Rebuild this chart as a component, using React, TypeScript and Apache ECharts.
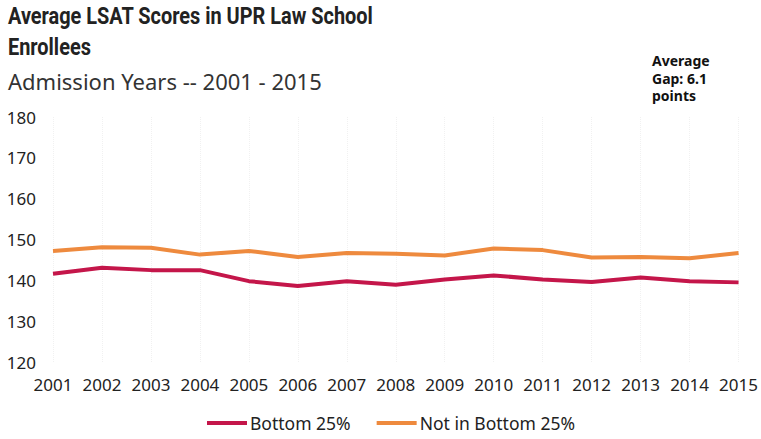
import React, { useEffect, useRef } from "react";
import * as echarts from "echarts";

const years = ["2001","2002","2003","2004","2005","2006","2007","2008","2009","2010","2011","2012","2013","2014","2015"];
const bottom25 = [141.6,143.1,142.5,142.5,139.8,138.6,139.8,138.9,140.2,141.2,140.2,139.6,140.7,139.8,139.5];
const notBottom25 = [147.2,148.1,148.0,146.3,147.2,145.7,146.7,146.5,146.1,147.8,147.4,145.6,145.7,145.4,146.7];
const seriesNames = ["Bottom 25%", "Not in Bottom 25%"];
const titleLines = ["Average LSAT Scores in UPR Law School", "Enrollees"];
const subtitle = "Admission Years -- 2001 - 2015";
const noteLines = ["Average", "Gap: 6.1", "points"];

export default function App() {
  const ref = useRef<HTMLDivElement>(null);
  useEffect(() => {
    if (!ref.current) return;
    const chart = echarts.init(ref.current, null, { renderer: "svg" });
    const font = "'Noto Sans', sans-serif";
    chart.setOption({
      animation: false,
      backgroundColor: "#ffffff",
      textStyle: { fontFamily: font },
      graphic: [
        {
          type: "text", x: 8, y: 4, scaleX: 0.83,
          style: { text: titleLines[0], font: "bold 24px Roboto, sans-serif", fill: "#222" },
        },
        {
          type: "text", x: 8, y: 35, scaleX: 0.83,
          style: { text: titleLines[1], font: "bold 24px Roboto, sans-serif", fill: "#222" },
        },
        {
          type: "text", x: 8, y: 70,
          style: { text: subtitle, font: "22px 'Noto Sans', sans-serif", fill: "#333" },
        },
        ...noteLines.map((t, i) => ({
          type: "text", x: 652, y: 52 + i * 17.5,
          style: { text: t, font: "bold 14px 'Noto Sans', sans-serif", lineHeight: 17, fill: "#111" },
        })),
      ],
      legend: {
        bottom: 2,
        left: 202,
        itemWidth: 40,
        itemHeight: 4,
        itemGap: 26,
        icon: "rect",
        textStyle: { fontSize: 17.5, color: "#222", fontFamily: font, padding: [0, 0, 0, -2] },
        data: seriesNames,
      },
      grid: { left: 53, right: 13, top: 117, height: 245, containLabel: false },
      xAxis: {
        type: "category",
        data: years,
        boundaryGap: false,
        axisLine: { show: false },
        axisTick: { show: false },
        axisLabel: { fontSize: 17, color: "#222", margin: 14, fontFamily: font, interval: 0, hideOverlap: false },
        splitLine: { show: true, interval: 0, lineStyle: { color: "#f1f1f1", type: "dotted", width: 1 } },
      },
      yAxis: {
        type: "value",
        min: 120,
        max: 180,
        interval: 10,
        axisLine: { show: false },
        axisTick: { show: false },
        axisLabel: { fontSize: 17, color: "#222", margin: 17, fontFamily: font },
        splitLine: { show: false },
      },
      series: [
        {
          name: seriesNames[0], type: "line", data: bottom25, showSymbol: false, symbol: "none",
          lineStyle: { width: 4, color: "#c4164a" }, itemStyle: { color: "#c4164a" },
        },
        {
          name: seriesNames[1], type: "line", data: notBottom25, showSymbol: false, symbol: "none",
          lineStyle: { width: 4, color: "#ee8a3e" }, itemStyle: { color: "#ee8a3e" },
        },
      ],
    });
    return () => chart.dispose();
  }, []);
  return <div ref={ref} style={{ width: 761, height: 439, position: "absolute", left: 0, top: 0 }} />;
}
